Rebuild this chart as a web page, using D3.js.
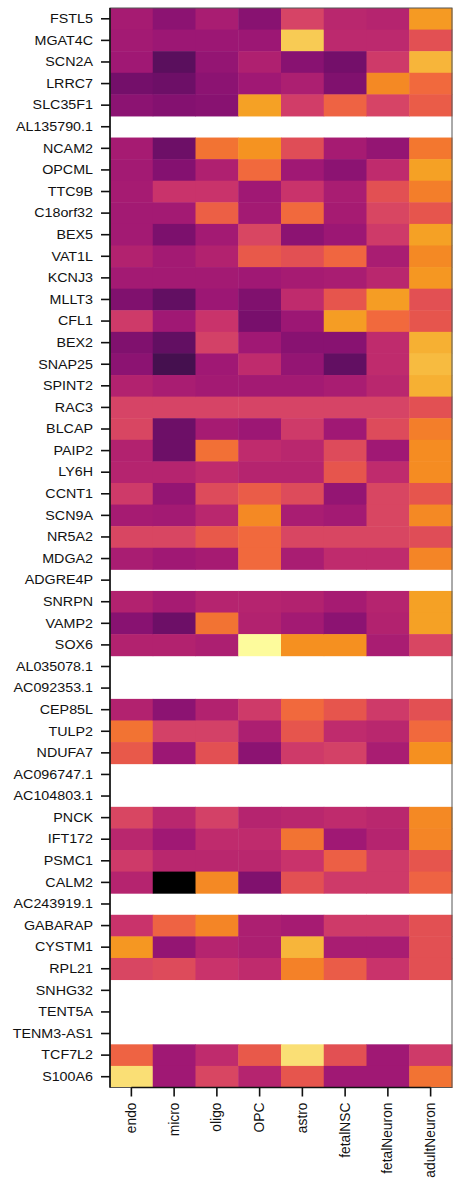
<!DOCTYPE html>
<html>
<head>
<meta charset="utf-8">
<script src="https://cdn.jsdelivr.net/npm/d3@7"></script>
<style>
  html, body { margin: 0; padding: 0; background: #fff; }
  svg { display: block; }
  text { font-family: "Liberation Sans", Arial, sans-serif; fill: #111; }
</style>
</head>
<body>
<div id="chart"></div>
<script>
// ---- data ----
const genes = ["FSTL5","MGAT4C","SCN2A","LRRC7","SLC35F1","AL135790.1","NCAM2","OPCML","TTC9B","C18orf32",
  "BEX5","VAT1L","KCNJ3","MLLT3","CFL1","BEX2","SNAP25","SPINT2","RAC3","BLCAP",
  "PAIP2","LY6H","CCNT1","SCN9A","NR5A2","MDGA2","ADGRE4P","SNRPN","VAMP2","SOX6",
  "AL035078.1","AC092353.1","CEP85L","TULP2","NDUFA7","AC096747.1","AC104803.1","PNCK","IFT172","PSMC1",
  "CALM2","AC243919.1","GABARAP","CYSTM1","RPL21","SNHG32","TENT5A","TENM3-AS1","TCF7L2","S100A6"];
const cellTypes = ["endo","micro","oligo","OPC","astro","fetalNSC","fetalNeuron","adultNeuron"];

// relative expression per cell type (null = no data)
const endo = [0.40,0.39,0.38,0.27,0.33,null,0.40,0.39,0.40,0.39,
  0.39,0.44,0.39,0.30,0.53,0.30,0.33,0.44,0.56,0.57,
  0.44,0.45,0.53,0.40,0.57,0.41,null,0.44,0.32,0.44,
  null,null,0.44,0.72,0.64,null,null,0.57,0.46,0.53,
  0.45,null,0.51,0.82,0.57,null,null,null,0.67,0.96];
const micro = [0.33,0.37,0.20,0.25,0.31,null,0.25,0.31,0.51,0.39,
  0.29,0.39,0.39,0.22,0.38,0.22,0.15,0.41,0.56,0.25,
  0.25,0.45,0.35,0.39,0.57,0.38,null,0.40,0.25,0.44,
  null,null,0.33,0.55,0.37,null,null,0.46,0.38,0.46,
  0.00,null,0.67,0.35,0.59,null,null,null,0.38,0.38];
const oligo = [0.41,0.37,0.35,0.33,0.32,null,0.72,0.43,0.51,0.66,
  0.39,0.44,0.39,0.37,0.51,0.55,0.38,0.39,0.56,0.40,
  0.71,0.48,0.59,0.46,0.64,0.40,null,0.45,0.72,0.42,
  null,null,0.44,0.55,0.61,null,null,0.55,0.48,0.46,
  0.78,null,0.77,0.45,0.51,null,null,null,0.48,0.57];
const OPC = [0.32,0.37,0.43,0.38,0.85,null,0.81,0.69,0.38,0.39,
  0.57,0.64,0.38,0.30,0.28,0.38,0.48,0.39,0.56,0.37,
  0.48,0.45,0.65,0.78,0.69,0.69,null,0.45,0.44,1.00,
  null,null,0.53,0.42,0.33,null,null,0.45,0.48,0.46,
  0.30,null,0.42,0.42,0.48,null,null,null,0.64,0.45];
const astro = [0.56,0.93,0.32,0.42,0.54,null,0.60,0.38,0.51,0.69,
  0.33,0.61,0.40,0.48,0.37,0.32,0.35,0.39,0.56,0.53,
  0.46,0.45,0.59,0.41,0.57,0.41,null,0.44,0.39,0.80,
  null,null,0.69,0.63,0.53,null,null,0.46,0.72,0.51,
  0.61,null,0.40,0.89,0.76,null,null,null,0.96,0.63];
const fetalNSC = [0.46,0.47,0.27,0.30,0.67,null,0.40,0.33,0.41,0.40,
  0.37,0.68,0.41,0.63,0.84,0.32,0.22,0.41,0.56,0.38,
  0.59,0.63,0.35,0.39,0.57,0.48,null,0.40,0.33,0.80,
  null,null,0.63,0.48,0.55,null,null,0.48,0.38,0.66,
  0.53,null,0.53,0.41,0.65,null,null,null,0.61,0.38];
const fetalNeuron = [0.45,0.47,0.53,0.78,0.56,null,0.35,0.48,0.61,0.57,
  0.53,0.41,0.46,0.84,0.69,0.48,0.48,0.46,0.56,0.59,
  0.38,0.48,0.57,0.57,0.57,0.48,null,0.45,0.44,0.41,
  null,null,0.53,0.46,0.41,null,null,0.46,0.45,0.53,
  0.53,null,0.53,0.41,0.51,null,null,null,0.38,0.38];
const adultNeuron = [0.83,0.61,0.89,0.69,0.65,null,0.73,0.85,0.75,0.63,
  0.85,0.78,0.82,0.61,0.63,0.88,0.90,0.88,0.61,0.75,
  0.79,0.79,0.63,0.78,0.60,0.77,null,0.85,0.85,0.57,
  null,null,0.61,0.69,0.80,null,null,0.78,0.77,0.63,
  0.67,null,0.61,0.61,0.61,null,null,null,0.53,0.72];

const seriesByType = { endo, micro, oligo, OPC, astro, fetalNSC, fetalNeuron, adultNeuron };

// ---- palette (colour ramp) ----
const rampStops = [0.00,0.15,0.22,0.28,0.33,0.38,0.44,0.50,0.56,0.62,0.68,0.74,0.80,0.86,0.90,0.94,0.97,1.00];
const rampColors = ["#000000","#45104f","#620f62","#780f6c","#8c1372","#a01874","#b2226f","#c6306c","#d64466",
  "#e4524f","#f06640","#f37a2c","#f59020","#f5a426","#f7bb40","#f8d05a","#fbe783","#fdfb9c"];

// ---- layout ----
const W = 454, H = 1180;
const margin = { left: 110, right: 2, top: 8, bottom: 92.5 };

const svg = d3.select("#chart").append("svg").attr("width", W).attr("height", H);

const x = d3.scaleBand().domain(cellTypes).range([margin.left, W - margin.right]).padding(0);
const y = d3.scaleBand().domain(genes).range([margin.top, H - margin.bottom]).padding(0);
const color = d3.scaleLinear().domain(rampStops).range(rampColors).interpolate(d3.interpolateRgb).clamp(true);

const cells = [];
cellTypes.forEach(ct => {
  seriesByType[ct].forEach((v, i) => cells.push({ gene: genes[i], type: ct, value: v }));
});

svg.append("g").selectAll("rect")
  .data(cells.filter(d => d.value !== null))
  .join("rect")
  .attr("x", d => x(d.type))
  .attr("y", d => y(d.gene))
  .attr("width", x.bandwidth() + 0.5)
  .attr("height", y.bandwidth() + 0.5)
  .attr("fill", d => color(d.value));

// frame
svg.append("rect")
  .attr("x", margin.left).attr("y", margin.top)
  .attr("width", W - margin.right - margin.left)
  .attr("height", (H - margin.bottom) - margin.top)
  .attr("fill", "none").attr("stroke", "#555").attr("stroke-width", 1);

// left axis
const yAxis = svg.append("g").attr("transform", `translate(${margin.left},0)`)
  .call(d3.axisLeft(y).tickSize(9).tickPadding(8));
yAxis.select(".domain").attr("stroke", "#111").attr("stroke-width", 1.6)
  .attr("d", `M0,${margin.top}V${H - margin.bottom}`);
yAxis.selectAll(".tick line").attr("stroke", "#111").attr("stroke-width", 1.6);
yAxis.selectAll(".tick text")
  .attr("font-size", 13)
  .attr("fill", "#111")
  .attr("x", null).attr("dy", null)
  .attr("dominant-baseline", "central")
  .attr("transform", "translate(-17,0) scale(1.1,1)");

// bottom axis
const xAxis = svg.append("g").attr("transform", `translate(0,${H - margin.bottom})`)
  .call(d3.axisBottom(x).tickSize(9).tickPadding(0));
xAxis.select(".domain").attr("stroke", "#111").attr("stroke-width", 1.6)
  .attr("d", `M${x(cellTypes[0]) + x.bandwidth()/2},0H${x(cellTypes[cellTypes.length-1]) + x.bandwidth()/2}`);
xAxis.selectAll(".tick line").attr("stroke", "#111").attr("stroke-width", 1.6);
xAxis.selectAll(".tick text")
  .attr("font-size", 13.8)
  .attr("fill", "#111")
  .attr("text-anchor", "end")
  .attr("y", null).attr("dy", null)
  .attr("dominant-baseline", "central")
  .attr("transform", "translate(0,15) rotate(-90)");
xAxis.selectAll("text").attr("font-family", "'Liberation Sans', Arial, sans-serif");
yAxis.selectAll("text").attr("font-family", "'Liberation Sans', Arial, sans-serif");
</script>
</body>
</html>
